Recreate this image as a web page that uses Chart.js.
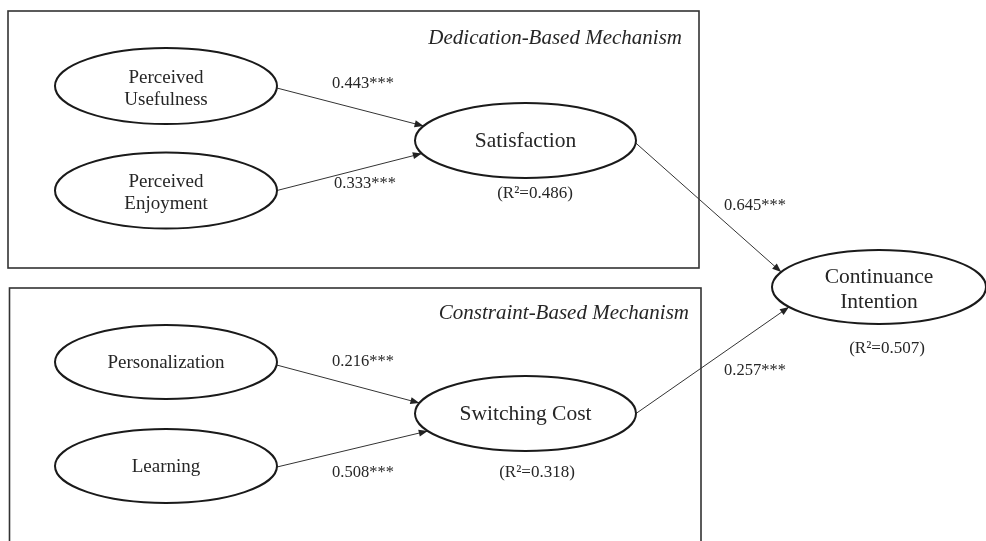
<!DOCTYPE html>
<html>
<head>
<meta charset="utf-8">
<script src="https://cdn.jsdelivr.net/npm/chart.js@4.4.1/dist/chart.umd.min.js"></script>
<style>
  html, body { margin: 0; padding: 0; background: #fff; }
  canvas { display: block; }
</style>
</head>
<body>
<canvas id="pathChart" width="986" height="541"></canvas>
<script>
// model data
const nodeLabels = [
    ['Perceived', 'Usefulness'],
    ['Perceived', 'Enjoyment'],
    ['Satisfaction'],
    ['Personalization'],
    ['Learning'],
    ['Switching Cost'],
    ['Continuance', 'Intention']
];
const pathFrom = [0, 1, 3, 4, 2, 5];
const pathTo = [2, 2, 5, 5, 6, 6];
const pathCoef = [0.443, 0.333, 0.216, 0.508, 0.645, 0.257];
const pathSig = ['***', '***', '***', '***', '***', '***'];
const r2Values = [0.486, 0.318, 0.507];
const groupTitles = ['Dedication-Based Mechanism', 'Constraint-Based Mechanism'];

// layout (diagram units = pixels of the 986x541 page)
const nodeX = [166, 166, 525.5, 166, 166, 525.5, 879];
const nodeY = [86, 190.5, 140.5, 362, 466, 413.5, 287];
const nodeRx = [111, 111, 110.5, 111, 111, 110.5, 107];
const nodeRy = [38, 38, 37.5, 37, 37, 37.5, 37];
const bigNodes = [2, 5, 6];
const startDy = [2, 0, 3, 1, 2.5, 0];        // where a path leaves the source (right side)
const endDy = [-14.5, 13, -10.5, 17.5, -15, 20]; // where it hits the target (left side)
const coefPos = [[332, 84], [334, 184], [332, 362], [332, 473], [724, 206], [724, 371]];
const r2Pos = [[535, 194], [537, 473], [887, 349]];
const boxes = [[8, 11, 699, 268], [9.5, 288, 701, 570]];
const titlePos = [[682, 38], [689, 313]];

const ink = '#262626';

function rightPoint(i, dy) {
    const k = Math.max(0, 1 - (dy / nodeRy[i]) ** 2);
    return {x: nodeX[i] + nodeRx[i] * Math.sqrt(k), y: nodeY[i] + dy};
}
function leftPoint(i, dy) {
    const k = Math.max(0, 1 - (dy / nodeRy[i]) ** 2);
    return {x: nodeX[i] - nodeRx[i] * Math.sqrt(k), y: nodeY[i] + dy};
}

const pathSets = pathFrom.map((f, i) => ({
    type: 'line',
    data: [rightPoint(f, startDy[i]), leftPoint(pathTo[i], endDy[i])],
    borderColor: '#333',
    borderWidth: 1,
    pointRadius: 0,
    fill: false,
    tension: 0
}));

const diagramPlugin = {
    id: 'diagram',
    beforeDatasetsDraw(chart) {
        const {ctx, scales: {x, y}} = chart;
        ctx.save();
        ctx.strokeStyle = '#333';
        ctx.lineWidth = 1.6;
        boxes.forEach(b => {
            const x0 = x.getPixelForValue(b[0]), y0 = y.getPixelForValue(b[1]);
            const x1 = x.getPixelForValue(b[2]), y1 = y.getPixelForValue(b[3]);
            ctx.strokeRect(x0, y0, x1 - x0, y1 - y0);
        });
        ctx.fillStyle = ink;
        ctx.font = 'italic 21px "Liberation Serif", "Times New Roman", serif';
        ctx.textAlign = 'right';
        ctx.textBaseline = 'middle';
        groupTitles.forEach((t, i) => {
            ctx.fillText(t, x.getPixelForValue(titlePos[i][0]), y.getPixelForValue(titlePos[i][1]));
        });
        ctx.restore();
    },
    afterDatasetsDraw(chart) {
        const {ctx, scales: {x, y}} = chart;
        ctx.save();
        // arrow heads
        ctx.fillStyle = '#222';
        pathSets.forEach(ds => {
            const a = ds.data[0], b = ds.data[1];
            const ax = x.getPixelForValue(a.x), ay = y.getPixelForValue(a.y);
            const bx = x.getPixelForValue(b.x), by = y.getPixelForValue(b.y);
            const ang = Math.atan2(by - ay, bx - ax);
            const len = 9, w = 3.5;
            ctx.beginPath();
            ctx.moveTo(bx, by);
            ctx.lineTo(bx - len * Math.cos(ang) + w * Math.sin(ang), by - len * Math.sin(ang) - w * Math.cos(ang));
            ctx.lineTo(bx - len * Math.cos(ang) - w * Math.sin(ang), by - len * Math.sin(ang) + w * Math.cos(ang));
            ctx.closePath();
            ctx.fill();
        });
        // latent variables
        nodeLabels.forEach((lines, i) => {
            const cx = x.getPixelForValue(nodeX[i]), cy = y.getPixelForValue(nodeY[i]);
            const rx = x.getPixelForValue(nodeX[i] + nodeRx[i]) - cx;
            const ry = Math.abs(y.getPixelForValue(nodeY[i] + nodeRy[i]) - cy);
            ctx.beginPath();
            ctx.ellipse(cx, cy, rx, ry, 0, 0, Math.PI * 2);
            ctx.fillStyle = '#fff';
            ctx.fill();
            ctx.strokeStyle = '#1a1a1a';
            ctx.lineWidth = 2;
            ctx.stroke();
            const big = bigNodes.includes(i);
            ctx.fillStyle = ink;
            ctx.font = (big ? '21.5px' : '19px') + ' "Liberation Serif", "Times New Roman", serif';
            ctx.textAlign = 'center';
            ctx.textBaseline = 'middle';
            const gap = big ? 25 : 22;
            const shift = lines.length > 1 ? 3 : 1;
            lines.forEach((t, j) => {
                ctx.fillText(t, cx, cy + shift + (j - (lines.length - 1) / 2) * gap);
            });
        });
        // path coefficients
        ctx.font = '16.5px "Liberation Serif", "Times New Roman", serif';
        ctx.textAlign = 'left';
        pathCoef.forEach((c, i) => {
            ctx.fillText(c.toFixed(3) + pathSig[i], x.getPixelForValue(coefPos[i][0]), y.getPixelForValue(coefPos[i][1]));
        });
        // explained variance
        ctx.font = '17px "Liberation Serif", "Times New Roman", serif';
        ctx.textAlign = 'center';
        r2Values.forEach((v, i) => {
            ctx.fillText('(R\u00B2=' + v.toFixed(3) + ')', x.getPixelForValue(r2Pos[i][0]), y.getPixelForValue(r2Pos[i][1]));
        });
        ctx.restore();
    }
};

new Chart('pathChart', {
    type: 'scatter',
    data: {
        datasets: [
            {
                label: 'nodes',
                data: nodeX.map((v, i) => ({x: v, y: nodeY[i]})),
                pointRadius: 0,
                showLine: false
            },
            ...pathSets
        ]
    },
    options: {
        responsive: false,
        maintainAspectRatio: false,
        animation: false,
        layout: {padding: 0},
        plugins: {
            legend: {display: false},
            tooltip: {enabled: false}
        },
        scales: {
            x: {type: 'linear', min: 0, max: 986, display: false},
            y: {type: 'linear', min: 0, max: 541, reverse: true, display: false}
        }
    },
    plugins: [diagramPlugin]
});
</script>
</body>
</html>
